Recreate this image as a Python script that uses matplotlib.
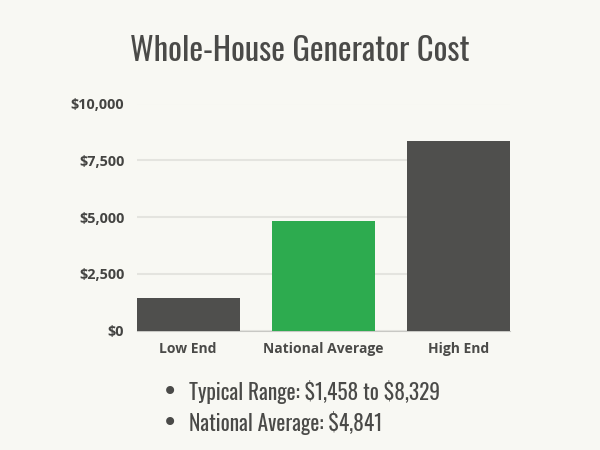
import matplotlib.pyplot as plt
from matplotlib.ticker import FuncFormatter

# data
categories = ['Low End', 'National Average', 'High End']
costs = [1458, 4841, 8329]
bar_colors = ['#4f4f4d', '#2dab4f', '#4f4f4d']
ticks = [0, 2500, 5000, 7500, 10000]
bullets = [r'Typical Range: \$1,458 to \$8,329', r'National Average: \$4,841']

bg = '#f8f8f3'
text_col = '#4a4a48'
narrow = ['Oswald', 'DejaVu Sans']

fig = plt.figure(figsize=(6, 4.5), dpi=100, facecolor=bg)
ax = fig.add_axes([0.228, 0.265, 0.622, 0.505], facecolor=bg)

ax.bar(range(len(categories)), costs, width=0.76, color=bar_colors, zorder=3)
ax.set_xlim(-0.38, 2.38)
ax.set_ylim(0, 10000)
ax.set_yticks(ticks)
ax.yaxis.set_major_formatter(FuncFormatter(lambda v, p: r'\${:,.0f}'.format(v)))
ax.set_xticks(range(len(categories)))
ax.set_xticklabels(categories)
ax.grid(axis='y', color='#e4e4df', linewidth=1.5, zorder=0)
for s in ['top', 'right', 'left']:
    ax.spines[s].set_visible(False)
ax.spines['bottom'].set_color('#c8c8c4')
ax.tick_params(axis='x', length=0, labelcolor=text_col, labelsize=10, pad=8)
ax.tick_params(axis='y', length=0, labelcolor='#444442', labelsize=10.4, pad=9)
for lab in ax.get_xticklabels() + ax.get_yticklabels():
    lab.set_fontfamily(['Open Sans', 'DejaVu Sans'])
    lab.set_fontweight('bold')

fig.text(0.5, 0.886, 'Whole-House Generator Cost', ha='center', va='center',
         fontsize=23.4, color=text_col, family=narrow)

for i, b in enumerate(bullets):
    y = 0.128 - i * 0.067
    fig.text(0.284, y, '\u2022', ha='center', va='center', fontsize=20, color=text_col)
    fig.text(0.315, y, b, ha='left', va='center', fontsize=15.4, color=text_col, family=narrow)

plt.savefig('out.png', dpi=100, facecolor=bg)
